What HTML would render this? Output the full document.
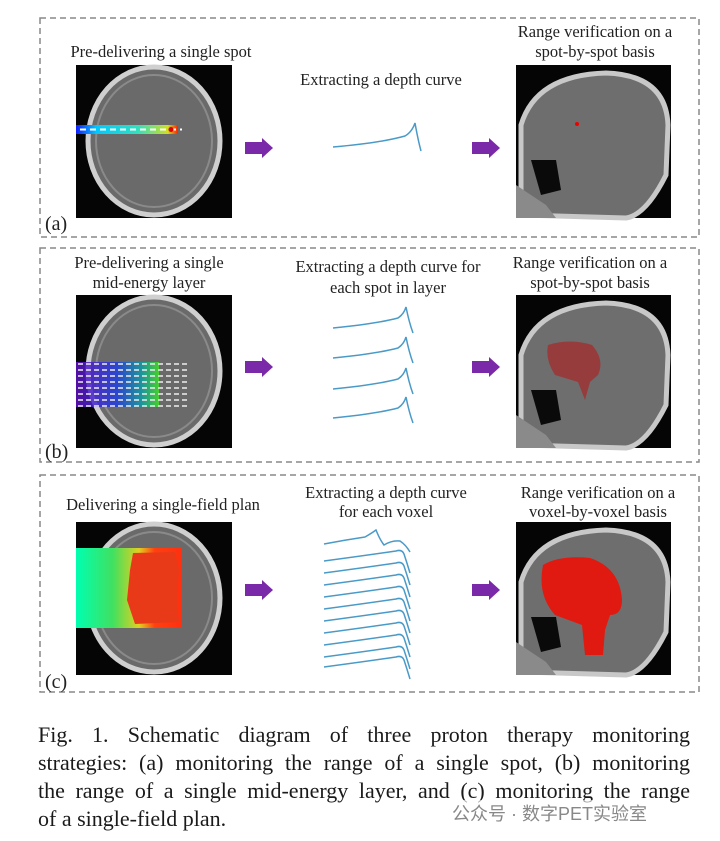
<!DOCTYPE html>
<html><head><meta charset="utf-8"><style>
html,body{margin:0;padding:0;background:#fff;}
body{width:720px;height:841px;position:relative;overflow:hidden;}
svg{position:absolute;left:0;top:0;}
.cap{position:absolute;left:38px;top:721px;width:652px;font-family:"Liberation Serif",serif;font-size:22px;line-height:28px;color:#1a1a1a;}
.cap div{text-align:justify;text-align-last:justify;white-space:nowrap;}
.cap div.l{text-align-last:left;}
.wm{position:absolute;left:448px;top:800px;font-family:"Liberation Sans","Noto Sans CJK SC",sans-serif;font-size:18px;color:#888;background:rgba(255,255,255,0.6);padding:0 4px;}
</style></head><body>
<svg width="720" height="841" viewBox="0 0 720 841" font-family="Liberation Serif, serif" font-size="16.5" fill="#222">
<defs>
<g id="ax">
<rect width="156" height="153" fill="#050505"/>
<ellipse cx="78" cy="76" rx="66" ry="74" fill="#6a6a6a" stroke="#cfcfcf" stroke-width="5"/>
<ellipse cx="78" cy="76" rx="58" ry="66" fill="none" stroke="#8a8a8a" stroke-width="2"/>
</g>
<g id="sg">
<rect width="155" height="153" fill="#050505"/>
<path d="M5 150 L5 60 Q20 10 90 8 Q150 10 152 60 L150 110 Q130 150 110 153 Z" fill="#6e6e6e" stroke="#c8c8c8" stroke-width="5"/>
<path d="M15 95 L40 95 L45 125 L25 130 Z" fill="#0a0a0a"/>
<path d="M0 120 L30 140 L40 153 L0 153 Z" fill="#8a8a8a"/>
</g>
<linearGradient id="beam" x1="0" x2="1"><stop offset="0" stop-color="#1020ff"/><stop offset="0.2" stop-color="#00c8ff"/><stop offset="0.6" stop-color="#30e0c0"/><stop offset="0.9" stop-color="#d0e020"/><stop offset="1" stop-color="#ff2000"/></linearGradient>
<linearGradient id="beamb" x1="0" x2="1"><stop offset="0" stop-color="#6010c0"/><stop offset="0.5" stop-color="#2040e0"/><stop offset="0.8" stop-color="#10a0a0"/><stop offset="1" stop-color="#40e020"/></linearGradient>
<linearGradient id="beamc" x1="0" x2="1"><stop offset="0" stop-color="#00ffb0"/><stop offset="0.35" stop-color="#40e060"/><stop offset="0.6" stop-color="#e0d020"/><stop offset="0.75" stop-color="#ff4010"/><stop offset="1" stop-color="#ff3010"/></linearGradient>
<path id="arr" d="M0 4 H17 V0 L28 10 L17 20 V16 H0 Z" fill="#7a2aa8"/>
<path id="vc" d="M324 0 Q362 -5 396 -10 Q402 -12 404 -7 Q407 2 410 12" fill="none" stroke="#4a9ac8" stroke-width="1.5"/>
</defs>
<g fill="none" stroke="#888" stroke-width="1.5" stroke-dasharray="6,4">
<rect x="40" y="18" width="659" height="219"/>
<rect x="40" y="248" width="659" height="214"/>
<rect x="40" y="475" width="659" height="217"/>
</g>
<!-- panel a -->
<text x="161" y="57" text-anchor="middle">Pre-delivering a single spot</text>
<text x="381" y="85" text-anchor="middle">Extracting a depth curve</text>
<text x="595" y="37" text-anchor="middle">Range verification  on a</text>
<text x="595" y="57" text-anchor="middle">spot-by-spot basis</text>
<use href="#ax" x="76" y="65"/>
<rect x="76" y="125" width="102" height="9" fill="url(#beam)"/>
<line x1="80" y1="129.5" x2="182" y2="129.5" stroke="#fff" stroke-width="2" stroke-dasharray="6,4"/>
<circle cx="171" cy="129.5" r="2.5" fill="#d00"/>
<use href="#sg" x="516" y="65"/>
<circle cx="577" cy="124" r="2" fill="#e00"/>
<use href="#arr" x="245" y="138"/><use href="#arr" x="472" y="138"/>
<path d="M333 147 Q380 143 405 136 Q412 132 415 123 Q418 140 421 151" fill="none" stroke="#4a9ac8" stroke-width="1.5"/>
<text x="45" y="230" font-size="20">(a)</text>
<!-- panel b -->
<text x="149" y="268" text-anchor="middle">Pre-delivering a single</text>
<text x="149" y="288" text-anchor="middle">mid-energy layer</text>
<text x="388" y="272" text-anchor="middle">Extracting a depth curve for</text>
<text x="388" y="293" text-anchor="middle">each spot in layer</text>
<text x="590" y="268" text-anchor="middle">Range verification on a</text>
<text x="590" y="288" text-anchor="middle">spot-by-spot basis</text>
<use href="#ax" x="76" y="295"/>
<rect x="76" y="362" width="83" height="45" fill="url(#beamb)" opacity="0.85"/>
<g stroke="#eee" stroke-width="1.5" stroke-dasharray="5,3">
<line x1="78" y1="364" x2="188" y2="364"/><line x1="78" y1="370" x2="188" y2="370"/><line x1="78" y1="376" x2="188" y2="376"/><line x1="78" y1="382" x2="188" y2="382"/><line x1="78" y1="388" x2="188" y2="388"/><line x1="78" y1="394" x2="188" y2="394"/><line x1="78" y1="400" x2="188" y2="400"/><line x1="78" y1="406" x2="188" y2="406"/>
</g>
<use href="#sg" x="516" y="295"/>
<path d="M548 345 Q570 338 592 345 Q605 360 598 375 L590 382 L585 400 L578 382 L555 375 Q545 360 548 345 Z" fill="#a03030" opacity="0.8"/>
<use href="#arr" x="245" y="357"/><use href="#arr" x="472" y="357"/>
<g fill="none" stroke="#4a9ac8" stroke-width="1.5">
<path d="M333 328 Q375 324 398 318 Q404 314 406 307 Q409 322 413 333"/>
<path d="M333 358 Q375 354 398 348 Q404 344 406 337 Q409 352 413 363"/>
<path d="M333 389 Q375 385 398 379 Q404 375 406 368 Q409 383 413 394"/>
<path d="M333 418 Q375 414 398 408 Q404 404 406 397 Q409 412 413 423"/>
</g>
<text x="45" y="458" font-size="20">(b)</text>
<!-- panel c -->
<text x="163" y="510" text-anchor="middle">Delivering a single-field plan</text>
<text x="386" y="498" text-anchor="middle">Extracting a depth curve</text>
<text x="386" y="517" text-anchor="middle">for each voxel</text>
<text x="598" y="498" text-anchor="middle">Range verification on a</text>
<text x="598" y="517" text-anchor="middle">voxel-by-voxel basis</text>
<use href="#ax" x="76" y="522"/>
<rect x="76" y="548" width="105" height="80" fill="url(#beamc)"/>
<path d="M133 553 L175 552 L179 570 L177 600 L179 622 L135 624 L127 600 L130 570 Z" fill="#e83a18"/>
<use href="#sg" x="516" y="522"/>
<path d="M543 565 Q560 555 590 558 Q620 568 622 600 Q622 615 610 615 L605 630 L603 655 L585 655 L582 625 L555 615 Q537 595 543 565 Z" fill="#e01a10"/>
<use href="#arr" x="245" y="580"/><use href="#arr" x="472" y="580"/>
<path d="M324 544 Q345 540 365 537 Q372 533 376 530 Q380 540 384 545 Q392 540 400 541 Q406 545 410 552" fill="none" stroke="#4a9ac8" stroke-width="1.5"/>
<use href="#vc" y="561"/><use href="#vc" y="573"/><use href="#vc" y="585"/><use href="#vc" y="597"/><use href="#vc" y="609"/><use href="#vc" y="621"/><use href="#vc" y="633"/><use href="#vc" y="645"/><use href="#vc" y="657"/><use href="#vc" y="667"/>
<text x="45" y="688" font-size="20">(c)</text>
</svg>
<div class="cap">
<div>Fig. 1. Schematic diagram of three proton therapy monitoring</div>
<div>strategies: (a) monitoring the range of a single spot, (b) monitoring</div>
<div>the range of a single mid-energy layer, and (c) monitoring the range</div>
<div class="l">of a single-field plan.</div>
</div>
<div class="wm">公众号 · 数字PET实验室</div>
</body></html>
